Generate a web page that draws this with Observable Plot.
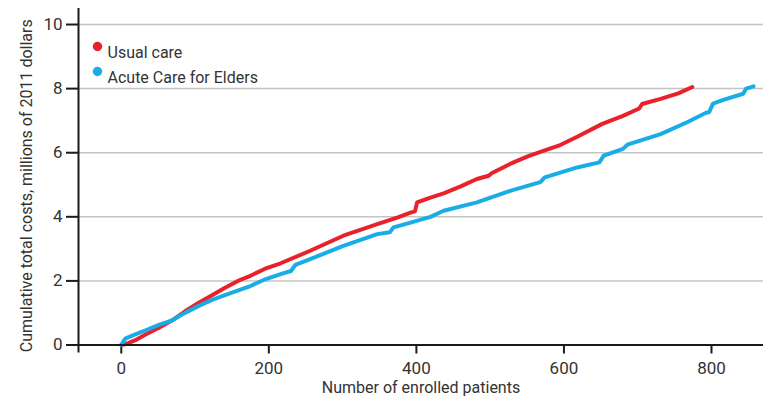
<!DOCTYPE html>
<html>
<head>
<meta charset="utf-8">
<script src="https://cdn.jsdelivr.net/npm/d3@7"></script>
<script src="https://cdn.jsdelivr.net/npm/@observablehq/plot@0.6"></script>
<style>
  html, body { margin: 0; padding: 0; background: #fff; }
</style>
</head>
<body>
<div id="chart"></div>
<script>
const seriesNames = ["Usual care", "Acute Care for Elders"];
const seriesColors = ["#e8212b", "#19ade6"];

// Usual care: number of enrolled patients vs cumulative cost (millions of 2011 dollars)
const usualN =    [0, 6, 19, 33, 51, 69, 87, 105, 123, 140, 160, 175, 195, 216, 256, 301, 347, 375, 392, 398, 401, 419, 437, 460, 482, 498, 502, 527, 550, 572, 595, 618, 652, 680, 702, 706, 731, 755, 774];
const usualCost = [0, 0.03, 0.15, 0.33, 0.54, 0.77, 1.06, 1.32, 1.55, 1.78, 2.02, 2.16, 2.38, 2.55, 2.94, 3.41, 3.77, 3.98, 4.13, 4.17, 4.45, 4.6, 4.73, 4.95, 5.18, 5.28, 5.36, 5.65, 5.88, 6.06, 6.24, 6.5, 6.9, 7.15, 7.38, 7.52, 7.68, 7.85, 8.05];

// Acute Care for Elders
const aceN =    [0, 3, 6, 19, 33, 51, 69, 87, 105, 123, 148, 175, 195, 216, 230, 236, 256, 301, 347, 364, 369, 392, 419, 437, 482, 527, 568, 574, 618, 648, 654, 680, 686, 731, 767, 792, 797, 802, 816, 843, 847, 857];
const aceCost = [0, 0.12, 0.21, 0.33, 0.46, 0.63, 0.77, 1.01, 1.22, 1.41, 1.62, 1.84, 2.05, 2.21, 2.31, 2.5, 2.68, 3.09, 3.46, 3.52, 3.67, 3.82, 4.0, 4.19, 4.45, 4.81, 5.08, 5.23, 5.54, 5.7, 5.91, 6.12, 6.25, 6.58, 6.95, 7.24, 7.27, 7.53, 7.65, 7.84, 8.0, 8.07];

const xTicks = [0, 200, 400, 600, 800];
const yTicks = [0, 2, 4, 6, 8, 10];
const xLabel = "Number of enrolled patients";
const yLabel = "Cumulative total costs, millions of 2011 dollars";

const xDomain = [-58, 870.5];
const yDomain = [0, 10.5];

const rows = [
  ...usualN.map((n, i) => ({series: seriesNames[0], n, cost: usualCost[i]})),
  ...aceN.map((n, i) => ({series: seriesNames[1], n, cost: aceCost[i]}))
];

const legendMarks = seriesNames.flatMap((name, i) => [
  Plot.dot([name], {frameAnchor: "top-left", dx: 19, dy: 38 + i * 25, r: 4.7, fill: seriesColors[i], stroke: "none"}),
  Plot.text([name], {frameAnchor: "top-left", dx: 29, dy: 38 + i * 25, text: d => d, textAnchor: "start", fill: "#333", fontSize: 16})
]);

const chart = Plot.plot({
  width: 763,
  height: 407,
  marginLeft: 78,
  marginRight: 0,
  marginTop: 8,
  marginBottom: 62.5,
  style: {fontFamily: "Roboto, 'Liberation Sans', sans-serif", fontSize: "16px", color: "#333", background: "#fff"},
  x: {domain: xDomain},
  y: {domain: yDomain},
  color: {domain: seriesNames, range: seriesColors},
  marks: [
    Plot.gridY(yTicks.filter(d => d > 0), {stroke: "#c4c4c4", strokeOpacity: 1, strokeWidth: 1.5}),
    Plot.axisY(yTicks, {tickSize: 12, tickPadding: 4, stroke: "#1a1a1a", strokeWidth: 2, label: null, fill: "#333", fontSize: 17}),
    Plot.axisX(xTicks, {tickSize: 9, tickPadding: 8, stroke: "#1a1a1a", strokeWidth: 2, label: null, fill: "#333", fontSize: 17}),
    Plot.ruleX([xDomain[0]], {stroke: "#1a1a1a", strokeWidth: 2, insetBottom: -8}),
    Plot.line(rows, {x: "n", y: "cost", z: "series", stroke: "series", strokeWidth: 4, strokeLinejoin: "round", strokeLinecap: "round"}),
    Plot.ruleY([0], {stroke: "#1a1a1a", strokeWidth: 2, insetLeft: -12}),
    ...legendMarks,
    Plot.text([xLabel], {frameAnchor: "bottom", dy: 47.5, text: d => d, textAnchor: "middle", fill: "#333", fontSize: 16}),
    Plot.text([yLabel], {frameAnchor: "left", dx: -52, dy: 9, rotate: -90, text: d => d, textAnchor: "middle", fill: "#333", fontSize: 16})
  ]
});

document.getElementById("chart").appendChild(chart);
</script>
</body>
</html>
